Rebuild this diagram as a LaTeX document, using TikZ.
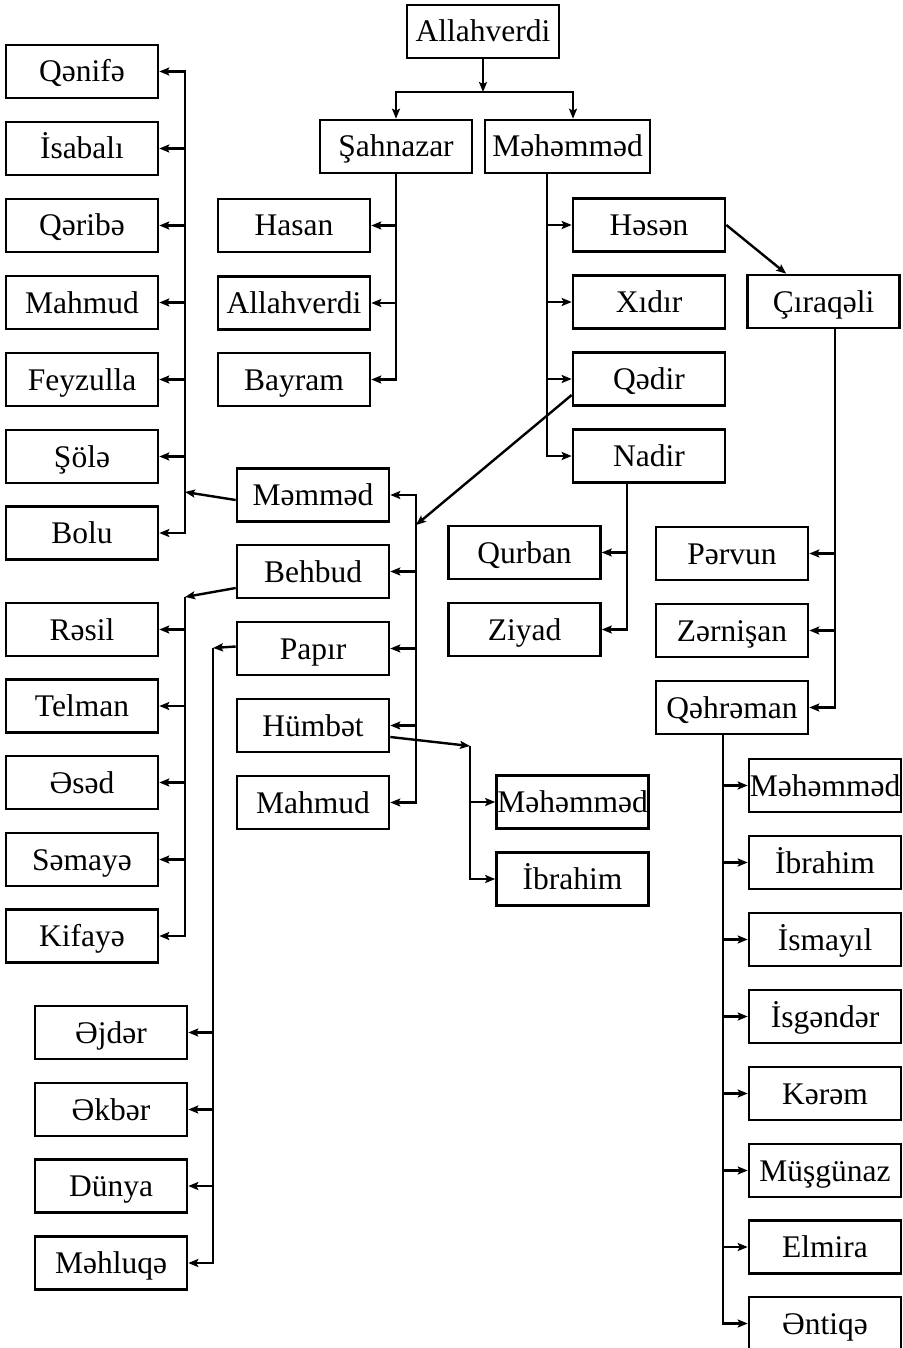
\documentclass[tikz,border=0pt]{standalone}
\usepackage{fontspec}
\setmainfont{Liberation Serif}
\usepackage{tikz}
\usetikzlibrary{arrows.meta}

\begin{document}
\begin{tikzpicture}[
  x=1pt,y=-1pt,
  box/.style={draw,line width=2.6pt,minimum width=152pt,minimum height=53pt,inner sep=0pt,
    text height=21pt,text depth=0pt,font=\fontsize{31.5}{36}\selectfont},
  arr/.style={-{Stealth[length=10pt,width=8pt,inset=2pt]},line width=2.4pt},
  line/.style={line width=2.4pt}
]
  \useasboundingbox (0,0) rectangle (902,1348);

  \def\xL{82}
  \def\xP{111}
  \def\xS{294}
  \def\xM{313}
  \def\xN{524.5}
  \def\xH{572.5}
  \def\xR{649}
  \def\xC{732}
  \def\xQ{825}

  % top generations
  \node[box] (allah) at (483,31.5) {Allahverdi};
  \node[box] (sah) at (396,146.5) {Şahnazar};
  \node[box,minimum width=165pt] (mhm) at (567.5,146.5) {Məhəmməd};
  \coordinate (split) at (483,92);
  \draw[arr] (allah) -- (split);
  \draw[arr] (split) -| (sah);
  \draw[arr] (split) -| ([xshift=5.5pt]mhm.north);

  % Sahnazar's sons
  \foreach \n/\t/\y in {hasan/Hasan/225.5,allah2/Allahverdi/303,bayram/Bayram/379.5}{
    \node[box] (\n) at (\xS,\y) {\t};
    \draw[arr] (sah.south) |- (\n.east);
  }

  % Mahammad's sons
  \foreach \n/\t/\y in {hesen/Həsən/225,xidir/Xıdır/302,qedir/Qədir/379,nadir/Nadir/456}{
    \node[box] (\n) at (\xR,\y) {\t};
    \draw[arr] ([xshift=-20.5pt]mhm.south) |- (\n.west);
  }

  \node[box] (ciraq) at (823.5,301.5) {Çıraqəli};
  \draw[arr] (hesen.east) -- ([xshift=40pt]ciraq.north west);

  \foreach \n/\t/\y in {pervun/Pərvun/553.5,zernisan/Zərnişan/630.5,qehreman/Qəhrəman/707.5}{
    \node[box] (\n) at (\xC,\y) {\t};
    \draw[arr] ([xshift=11.5pt]ciraq.south) |- (\n.east);
  }

  \foreach \n/\t/\y in {mhm2/Məhəmməd/785.5,ibr2/İbrahim/862.5,ismayil/İsmayıl/939.5,isgender/İsgəndər/1016.5,
      kerem/Kərəm/1093.5,musgunaz/Müşgünaz/1170.5,elmira/Elmira/1247,entiqe/Əntiqə/1323.5}{
    \node[box] (\n) at (\xQ,\y) {\t};
    \draw[arr] ([xshift=-9pt]qehreman.south) |- (\n.west);
  }

  \foreach \n/\t/\y in {qurban/Qurban/552.5,ziyad/Ziyad/629.5}{
    \node[box] (\n) at (\xN,\y) {\t};
    \draw[arr] ([xshift=-22pt]nadir.south) |- (\n.east);
  }

  % Qadir's sons
  \coordinate (mamJ) at (416,525);
  \draw[arr] ([yshift=-16pt]qedir.west) -- (mamJ);
  \foreach \n/\t/\y in {memmed/Məmməd/495,behbud/Behbud/571.5,papir/Papır/648.5,humbet/Hümbət/725.5,mahmud2/Mahmud/802.5}{
    \node[box] (\n) at (\xM,\y) {\t};
    \draw[arr] (mamJ) |- (\n.east);
  }

  % Mammad's children
  \coordinate (memJ) at (185,492);
  \draw[arr] ([yshift=-5pt]memmed.west) -- (memJ);
  \foreach \n/\t/\y in {qenife/Qənifə/71.5,isabali/İsabalı/148.5,qeribe/Qəribə/225.5,mahmud/Mahmud/302.5,
      feyzulla/Feyzulla/379.5,sole/Şölə/456.5,bolu/Bolu/533}{
    \node[box] (\n) at (\xL,\y) {\t};
    \draw[arr] (memJ) |- (\n.east);
  }

  % Behbud's children
  \coordinate (behJ) at (185,597);
  \draw[arr] ([yshift=-16.5pt]behbud.west) -- (behJ);
  \foreach \n/\t/\y in {resil/Rəsil/629.5,telman/Telman/706,esed/Əsəd/782.5,semaye/Səmayə/859.5,kifaye/Kifayə/936}{
    \node[box] (\n) at (\xL,\y) {\t};
    \draw[arr] (behJ) |- (\n.east);
  }

  % Papir's children
  \coordinate (papJ) at (213,648);
  \draw[arr] ([yshift=2pt]papir.west) -- (papJ);
  \foreach \n/\t/\y in {ejder/Əjdər/1032.5,ekber/Əkbər/1109.5,dunya/Dünya/1186,mehluqe/Məhluqə/1263}{
    \node[box] (\n) at (\xP,\y) {\t};
    \draw[arr] (papJ) |- (\n.east);
  }

  % Humbat's sons
  \coordinate (humJ) at (470,746);
  \draw[arr] ([yshift=-11.5pt]humbet.east) -- (humJ);
  \foreach \n/\t/\y in {mhm3/Məhəmməd/802,ibr3/İbrahim/879}{
    \node[box] (\n) at (\xH,\y) {\t};
    \draw[arr] (humJ) |- (\n.west);
  }
\end{tikzpicture}
\end{document}
